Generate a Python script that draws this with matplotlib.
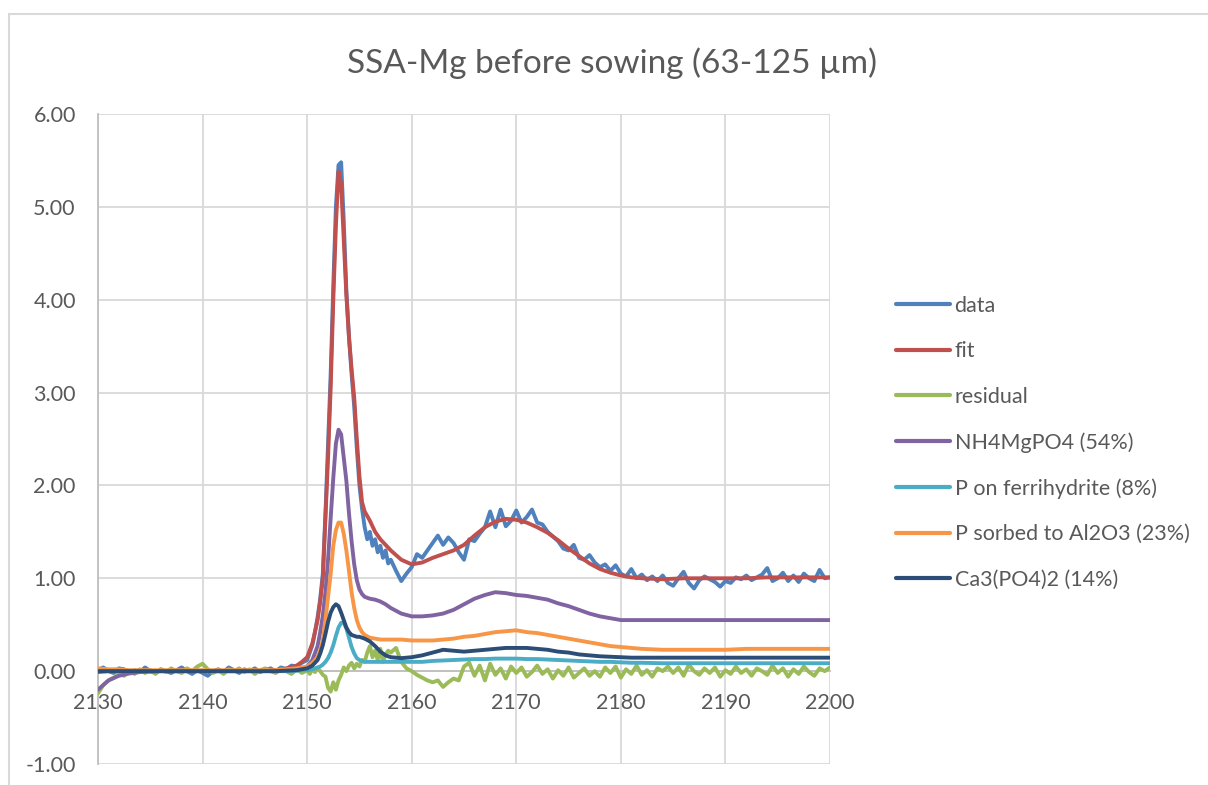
import numpy as np
import matplotlib
matplotlib.use("Agg")
import matplotlib.pyplot as plt
from matplotlib.patches import Rectangle

# ---------------- data ----------------
title = "SSA-Mg before sowing (63-125 µm)"
series_labels = ["data", "fit", "residual", "NH4MgPO4 (54%)", "P on ferrihydrite (8%)",
                 "P sorbed to Al2O3 (23%)", "Ca3(PO4)2 (14%)"]
series_colors = ["#4F81BD", "#C0504D", "#9BBB59", "#8064A2", "#4BACC6", "#F79646", "#2C4D75"]
x_ticks = [2130, 2140, 2150, 2160, 2170, 2180, 2190, 2200]
y_ticks = [-1, 0, 1, 2, 3, 4, 5, 6]

# sampling grid for the measured (noisy) series
energy_noisy = np.concatenate([np.arange(2130, 2150, 0.5),
                               np.arange(2150, 2158, 0.25),
                               np.arange(2158, 2200.01, 0.5)])

# measured data, 2130-2149.5 (0.5 step)
data_pre = [0.01, 0.04, 0.00, -0.02, 0.03, 0.02, -0.02, 0.01, -0.01, 0.04,
            0.00, -0.02, 0.02, 0.00, -0.02, 0.01, 0.04, 0.00, -0.03, 0.01,
            -0.02, -0.05, 0.00, 0.02, -0.01, 0.04, 0.01, -0.02, 0.02, 0.00,
            0.03, -0.01, 0.01, 0.03, 0.00, 0.04, 0.02, 0.06, 0.05, 0.09]
# measured data, 2150-2157.75 (0.25 step)
data_peak = [0.12, 0.20, 0.28, 0.42, 0.58, 0.78, 1.05, 1.70, 2.45, 3.20,
             4.15, 5.00, 5.45, 5.48, 4.85, 4.10, 3.60, 3.20, 2.85, 2.40,
             2.00, 1.75, 1.55, 1.42, 1.50, 1.35, 1.42, 1.28, 1.35, 1.22,
             1.30, 1.16]
# measured data, 2158-2200 (0.5 step)
data_post = [1.20, 1.08, 0.97, 1.05, 1.12, 1.26, 1.22, 1.30, 1.38, 1.46,
             1.36, 1.44, 1.38, 1.28, 1.20, 1.42, 1.40, 1.48, 1.55, 1.72,
             1.55, 1.74, 1.56, 1.62, 1.73, 1.60, 1.66, 1.74, 1.60, 1.58,
             1.50, 1.45, 1.40, 1.32, 1.30, 1.36, 1.22, 1.20, 1.25, 1.17,
             1.12, 1.15, 1.08, 1.14, 1.05, 1.02, 1.10, 1.00, 1.04, 0.98,
             1.02, 0.97, 1.03, 0.95, 0.92, 1.00, 1.07, 0.95, 0.89, 0.98,
             1.02, 0.99, 0.96, 0.91, 0.97, 0.95, 1.01, 0.99, 1.03, 0.98,
             1.01, 1.04, 1.11, 0.97, 1.00, 1.06, 0.97, 1.03, 0.96, 1.05,
             1.00, 0.97, 1.09, 1.00, 1.01]

# residual, same grid
resid_pre = [-0.24, -0.15, -0.10, -0.07, -0.03, -0.05, 0.00, -0.03, 0.02, -0.02,
             0.01, -0.03, 0.02, -0.01, 0.03, 0.00, -0.02, 0.03, 0.00, 0.05,
             0.08, 0.02, -0.02, 0.01, -0.03, 0.02, 0.00, 0.03, -0.01, 0.02,
             -0.03, 0.01, 0.03, 0.00, -0.02, 0.02, 0.00, -0.03, 0.02, -0.02]
resid_peak = [0.01, -0.03, 0.02, -0.01, 0.03, 0.00, -0.04, -0.06, -0.18, -0.22,
              -0.12, -0.20, -0.10, -0.04, 0.04, 0.00, 0.06, 0.09, 0.03, 0.08,
              0.05, 0.12, 0.10, 0.20, 0.27, 0.15, 0.22, 0.12, 0.24, 0.10,
              0.18, 0.22]
resid_post = [0.20, 0.25, 0.10, 0.03, 0.00, -0.04, -0.07, -0.10, -0.12, -0.10,
              -0.17, -0.12, -0.08, -0.10, 0.05, 0.09, -0.05, 0.06, -0.10, 0.08,
              -0.04, 0.03, -0.08, 0.05, -0.02, 0.04, -0.06, -0.01, 0.06, -0.03,
              0.02, -0.08, 0.01, -0.05, 0.04, -0.07, -0.02, 0.03, -0.05, 0.00,
              -0.06, 0.04, -0.02, 0.05, -0.07, 0.02, -0.03, 0.06, -0.04, 0.01,
              -0.06, 0.03, 0.00, 0.05, -0.02, 0.04, -0.05, 0.07, 0.00, -0.04,
              0.03, -0.02, 0.04, -0.06, 0.01, -0.03, 0.05, -0.02, 0.02, -0.05,
              0.03, 0.00, -0.04, 0.06, -0.02, 0.03, -0.06, 0.02, -0.03, 0.05,
              -0.01, -0.05, 0.03, 0.00, 0.04]

# knot energies for the smooth (fit / component) series
energy_smooth = [2130, 2131, 2132, 2133, 2134, 2136, 2140, 2145, 2147, 2148, 2149, 2149.5,
                 2150, 2150.5, 2151, 2151.25, 2151.5, 2151.75, 2152, 2152.25, 2152.5,
                 2152.75, 2153, 2153.25, 2153.5, 2153.75, 2154, 2154.25, 2154.5, 2154.75,
                 2155, 2155.25, 2155.5, 2156, 2156.5, 2157, 2157.5, 2158,
                 2159, 2160, 2161, 2162, 2163, 2164, 2165, 2166, 2167, 2168, 2169, 2170,
                 2171, 2172, 2173, 2174, 2175, 2176, 2177, 2178, 2179, 2180, 2181, 2182,
                 2184, 2186, 2188, 2190, 2192, 2194, 2196, 2198, 2200]

fit = [-0.01, 0.00, 0.00, 0.00, 0.00, 0.00, 0.00, 0.00, 0.01, 0.03, 0.06, 0.10,
       0.15, 0.30, 0.55, 0.75, 1.00, 1.65, 2.30, 3.05, 4.00,
       4.80, 5.38, 5.25, 4.65, 4.05, 3.60, 3.25, 2.95, 2.50,
       2.10, 1.82, 1.72, 1.62, 1.50, 1.42, 1.36, 1.30,
       1.20, 1.15, 1.17, 1.22, 1.26, 1.30, 1.36, 1.46, 1.55, 1.61, 1.64, 1.63,
       1.60, 1.55, 1.49, 1.41, 1.32, 1.24, 1.16, 1.10, 1.06, 1.03, 1.01, 1.00,
       0.99, 1.00, 1.00, 1.00, 1.00, 1.01, 1.01, 1.01, 1.01]

nh4mgpo4 = [-0.20, -0.10, -0.05, -0.025, -0.01, 0.00, 0.00, 0.00, 0.00, 0.01, 0.02, 0.03,
            0.05, 0.12, 0.27, 0.42, 0.60, 0.85, 1.20, 1.65, 2.08,
            2.45, 2.60, 2.55, 2.30, 2.05, 1.70, 1.40, 1.15, 0.98,
            0.88, 0.83, 0.80, 0.78, 0.77, 0.75, 0.72, 0.68,
            0.62, 0.59, 0.59, 0.60, 0.62, 0.66, 0.72, 0.78, 0.82, 0.85, 0.84, 0.82,
            0.81, 0.79, 0.77, 0.73, 0.70, 0.66, 0.62, 0.59, 0.57, 0.55, 0.55, 0.55,
            0.55, 0.55, 0.55, 0.55, 0.55, 0.55, 0.55, 0.55, 0.55]

ferrihydrite = [0.00, 0.00, 0.00, 0.00, 0.00, 0.00, 0.00, 0.00, 0.00, 0.00, 0.005, 0.01,
                0.01, 0.02, 0.04, 0.05, 0.07, 0.10, 0.14, 0.20, 0.28,
                0.38, 0.47, 0.52, 0.52, 0.46, 0.36, 0.26, 0.19, 0.14,
                0.12, 0.11, 0.10, 0.10, 0.10, 0.10, 0.10, 0.10,
                0.10, 0.10, 0.10, 0.11, 0.115, 0.12, 0.125, 0.13, 0.13, 0.135, 0.135, 0.135,
                0.13, 0.13, 0.125, 0.12, 0.115, 0.11, 0.105, 0.10, 0.10, 0.095, 0.09, 0.09,
                0.085, 0.085, 0.085, 0.085, 0.085, 0.085, 0.085, 0.085, 0.085]

al2o3 = [0.03, 0.02, 0.02, 0.01, 0.01, 0.01, 0.01, 0.01, 0.01, 0.02, 0.03, 0.04,
         0.05, 0.09, 0.15, 0.22, 0.33, 0.55, 0.80, 1.05, 1.35,
         1.52, 1.60, 1.60, 1.48, 1.30, 1.08, 0.85, 0.68, 0.55,
         0.47, 0.42, 0.39, 0.36, 0.35, 0.34, 0.34, 0.34,
         0.34, 0.33, 0.33, 0.33, 0.34, 0.35, 0.37, 0.38, 0.40, 0.42, 0.43, 0.44,
         0.42, 0.41, 0.39, 0.37, 0.35, 0.33, 0.31, 0.29, 0.27, 0.26, 0.25, 0.24,
         0.23, 0.23, 0.23, 0.23, 0.24, 0.24, 0.24, 0.24, 0.24]

ca3po42 = [0.00, 0.00, 0.00, 0.00, 0.00, 0.00, 0.00, 0.00, 0.00, 0.005, 0.01, 0.02,
           0.03, 0.06, 0.12, 0.19, 0.28, 0.40, 0.53, 0.63, 0.69,
           0.72, 0.70, 0.63, 0.55, 0.47, 0.42, 0.39, 0.38, 0.37,
           0.37, 0.36, 0.35, 0.32, 0.27, 0.21, 0.17, 0.15,
           0.14, 0.15, 0.17, 0.20, 0.23, 0.22, 0.21, 0.22, 0.23, 0.24, 0.25, 0.25,
           0.25, 0.24, 0.23, 0.21, 0.20, 0.18, 0.17, 0.16, 0.155, 0.15, 0.145, 0.145,
           0.145, 0.145, 0.145, 0.145, 0.145, 0.145, 0.145, 0.145, 0.145]

# ---------------- plot ----------------
plt.rcParams['font.family'] = ['Lato', 'DejaVu Sans']
text_color = "#595959"
grid_color = "#D9D9D9"

fig = plt.figure(figsize=(12.08, 7.85), dpi=100)
ax = fig.add_axes([98 / 1208, 1 - 764 / 785, (830 - 98) / 1208, (764 - 114) / 785])

data = np.concatenate([data_pre, data_peak, data_post])
resid = np.concatenate([resid_pre, resid_peak, resid_post])

series = [
    (energy_noisy, data),
    (energy_smooth, fit),
    (energy_noisy, resid),
    (energy_smooth, nh4mgpo4),
    (energy_smooth, ferrihydrite),
    (energy_smooth, al2o3),
    (energy_smooth, ca3po42),
]
lines = []
for (xs, ys), lab, col in zip(series, series_labels, series_colors):
    ln, = ax.plot(xs, ys, color=col, lw=2.8, label=lab, solid_joinstyle='round',
                  solid_capstyle='round', zorder=3)
    lines.append(ln)

ax.set_xlim(2130, 2200)
ax.set_ylim(-1, 6)
ax.set_xticks(x_ticks)
ax.set_yticks(y_ticks)
ax.set_yticklabels([f"{v:.2f}" for v in y_ticks])
ax.grid(True, color=grid_color, lw=1.3, zorder=0)
ax.set_axisbelow(True)

for s in ["top", "right"]:
    ax.spines[s].set_visible(False)
ax.spines["bottom"].set_position(("data", 0))
ax.spines["bottom"].set_color("#BFBFBF")
ax.spines["bottom"].set_linewidth(1.3)
ax.spines["left"].set_color("#BFBFBF")
ax.spines["left"].set_linewidth(1.3)

ax.tick_params(axis="both", length=0, labelsize=15.5, colors=text_color)
ax.tick_params(axis="x", pad=16)
ax.tick_params(axis="y", pad=16)

fig.text(0.507, 1 - 63 / 785, title, ha="center", va="center", fontsize=24, color=text_color)

leg = fig.legend(handles=lines, labels=series_labels, loc="upper left",
                 bbox_to_anchor=(896 / 1208, 1 - 296 / 785), frameon=False,
                 fontsize=15.5, handlelength=2.5, handletextpad=0.22,
                 labelspacing=1.18, borderpad=0, borderaxespad=0)
for t in leg.get_texts():
    t.set_color(text_color)
for h in leg.legend_handles:
    h.set_linewidth(3)

fig.add_artist(Rectangle((9 / 1208, -0.1), 1.5, 1 - 14 / 785 + 0.1,
                         transform=fig.transFigure, fill=False, ec=grid_color, lw=1.5))

fig.savefig("out.png", dpi=100)
